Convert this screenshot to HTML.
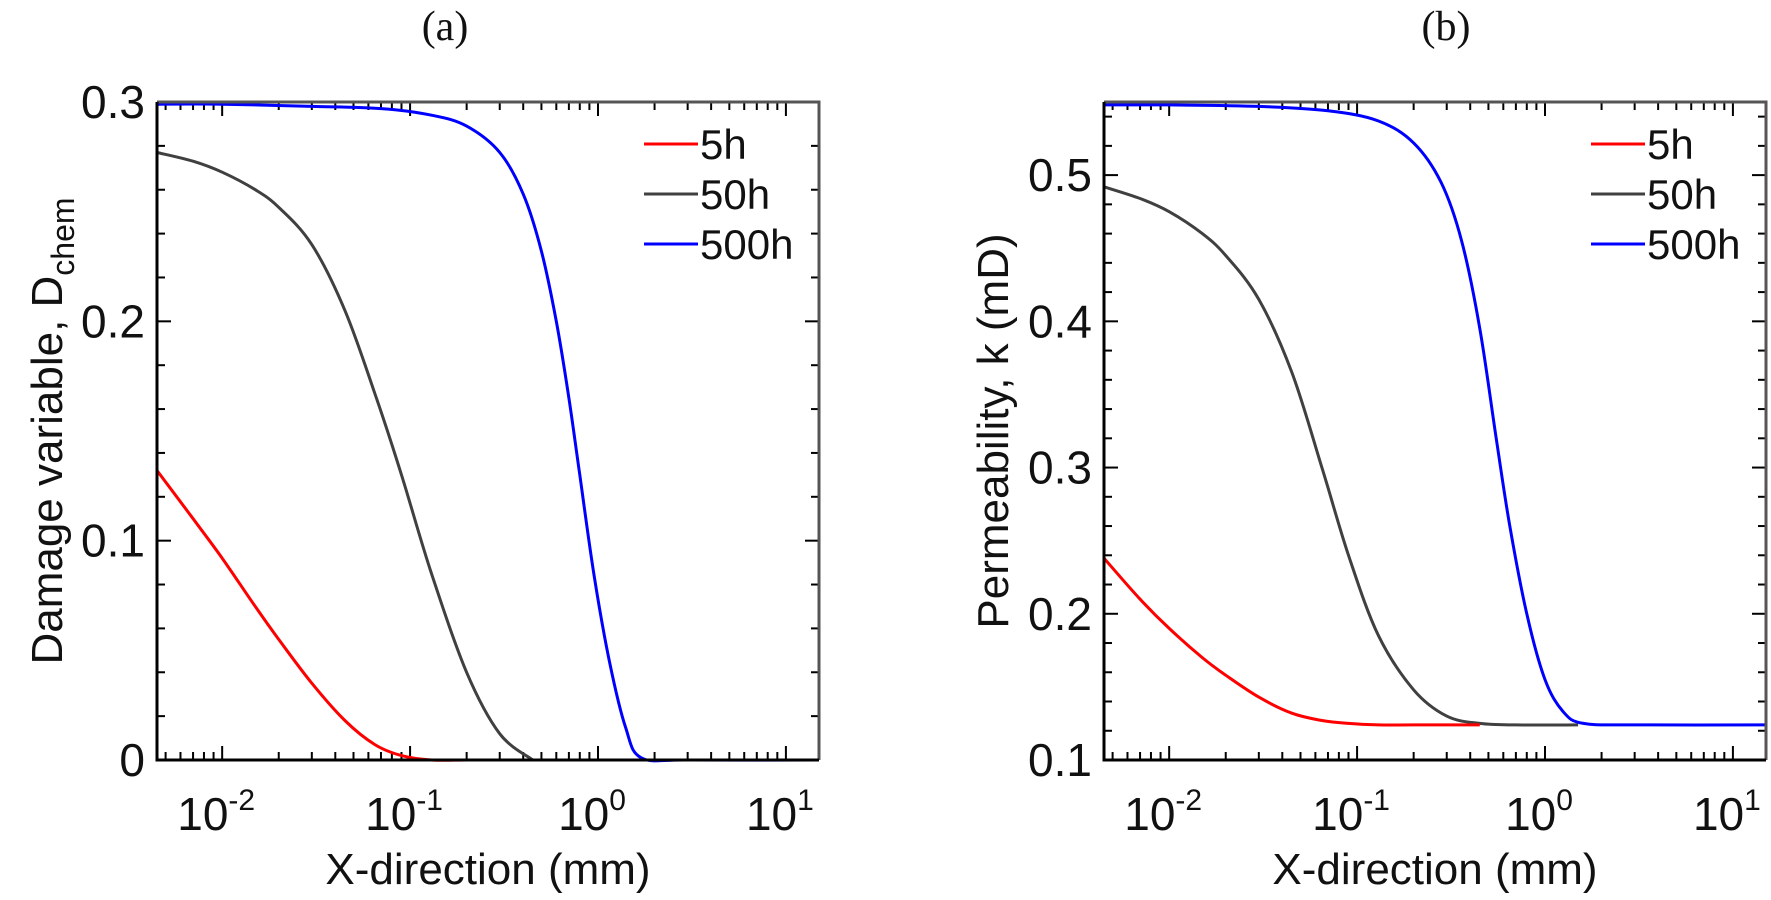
<!DOCTYPE html>
<html><head><meta charset="utf-8"><style>
html,body{margin:0;padding:0;background:#fff;}
svg{display:block;font-family:"Liberation Sans",Arial,sans-serif;}
</style></head><body>
<svg id="fig" width="1771" height="900" viewBox="0 0 1771 900"></svg>
<script>
// ---- data ----
const xA = [0.0045,0.007,0.01,0.015,0.02,0.03,0.045,0.065,0.09,0.13,0.2,0.3,0.45];
const dRed5h = [0.132,0.11,0.092,0.07,0.055,0.035,0.018,0.007,0.002,0,0,0,0];
const xB = [0.0045,0.007,0.01,0.015,0.02,0.03,0.045,0.065,0.09,0.13,0.2,0.3,0.45];
const dBlack50h = [0.277,0.273,0.268,0.26,0.252,0.235,0.205,0.167,0.13,0.085,0.04,0.012,0];
const xC = [0.0045,0.01,0.03,0.07,0.13,0.2,0.3,0.4,0.5,0.6,0.7,0.8,0.95,1.15,1.4,1.7,3,15];
const dBlue500h = [0.299,0.299,0.298,0.297,0.294,0.289,0.277,0.258,0.232,0.2,0.165,0.13,0.085,0.045,0.015,0.001,0,0];

const xD = [0.0045,0.007,0.01,0.015,0.02,0.03,0.045,0.065,0.09,0.13,0.2,0.45];
const kRed5h = [0.238,0.21,0.19,0.17,0.158,0.143,0.132,0.127,0.125,0.124,0.124,0.124];
const xE = [0.0045,0.007,0.01,0.015,0.02,0.03,0.045,0.065,0.09,0.13,0.2,0.3,0.45,0.7,1.5];
const kBlack50h = [0.492,0.484,0.475,0.46,0.445,0.415,0.365,0.3,0.24,0.185,0.148,0.13,0.125,0.124,0.124];
const xF = [0.0045,0.01,0.03,0.07,0.13,0.2,0.28,0.36,0.45,0.55,0.65,0.8,1.0,1.25,1.6,3,15];
const kBlue500h = [0.548,0.548,0.547,0.544,0.537,0.522,0.495,0.455,0.395,0.32,0.26,0.2,0.155,0.133,0.125,0.124,0.124];

const xTickLabels = ["-2","-1","0","1"];
const yTicksA = [0,0.1,0.2,0.3];
const yTicksB = [0.1,0.2,0.3,0.4,0.5];
const legendLabels = ["5h","50h","500h"];
const colors = ["#ff0000","#404040","#0000ff"];

const NS="http://www.w3.org/2000/svg";
const svg=document.getElementById('fig');
function mk(tag,attrs,parent){const e=document.createElementNS(NS,tag);for(const k in attrs)e.setAttribute(k,attrs[k]);(parent||svg).appendChild(e);return e;}

function path(xs,ys,sx,sy){
  const P=xs.map((x,i)=>[sx(x),sy(ys[i])]);
  let d=`M${P[0][0].toFixed(1)},${P[0][1].toFixed(1)}`;
  for(let i=0;i<P.length-1;i++){
    const p0=P[Math.max(0,i-1)],p1=P[i],p2=P[i+1],p3=P[Math.min(P.length-1,i+2)];
    const c1=[p1[0]+(p2[0]-p0[0])/6,p1[1]+(p2[1]-p0[1])/6];
    const c2=[p2[0]-(p3[0]-p1[0])/6,p2[1]-(p3[1]-p1[1])/6];
    d+=` C${c1[0].toFixed(1)},${c1[1].toFixed(1)} ${c2[0].toFixed(1)},${c2[1].toFixed(1)} ${p2[0].toFixed(1)},${p2[1].toFixed(1)}`;
  }
  return d;
}

function panel(cfg){
  const g=mk('g',{});
  
  
  const L=cfg.left,R=cfg.left+662,T=102,B=760;
  const lx0=Math.log10(0.0045),lx1=Math.log10(15);
  const sx=x=>L+(Math.log10(x)-lx0)/(lx1-lx0)*(R-L);
  const sy=y=>B-(y-cfg.ymin)/(cfg.ymax-cfg.ymin)*(B-T);
  for(let e=-3;e<=1;e++){for(let m=1;m<10;m++){const v=m*Math.pow(10,e);if(v<0.0045||v>15)continue;const X=sx(v);const len=m===1?14:8;
    const t1=mk('line',{x1:X,x2:X,y1:B,y2:B-len,stroke:'#000','stroke-width':2},g);
    
    const t2=mk('line',{x1:X,x2:X,y1:T,y2:T+len,stroke:'#000','stroke-width':2},g);
    }}
  xTickLabels.forEach((lab,i)=>{const X=sx(Math.pow(10,i-2));
    const t=mk('text',{x:X-6,y:830,'font-size':46,'text-anchor':'middle',fill:'#111'},g);
    
    t.textContent='10';const s=mk('tspan',{dy:-20,'font-size':30},t);s.textContent=lab;});
  for(let v=cfg.ymin;v<=cfg.ymax+1e-9;v+=0.02){const Y=sy(v);const major=cfg.ticks.some(t=>Math.abs(t-v)<1e-6);const len=major?14:8;
    const a=mk('line',{x1:L,x2:L+len,y1:Y,y2:Y,stroke:'#000','stroke-width':2},g);
    
    const b=mk('line',{x1:R,x2:R-len,y1:Y,y2:Y,stroke:'#000','stroke-width':2},g);
    }
  cfg.ticks.forEach(v=>{const t=mk('text',{x:L-12,y:sy(v)+16,'font-size':46,'text-anchor':'end',fill:'#111'},g);
    
    t.textContent=(v===0?'0':v.toFixed(1));});
  const clip=mk('clipPath',{id:'clip'+cfg.left},g);mk('rect',{x:L,y:T-3,width:R-L,height:B-T+6},clip);
  cfg.series.forEach((s,i)=>{const p=mk('path',{d:path(s[0],s[1],sx,sy),fill:'none',stroke:colors[s[2]],'stroke-width':3,'clip-path':`url(#clip${cfg.left})`},g);
    });
  const f=mk('path',{d:`M${L},${T}H${R}V${B}`,fill:'none',stroke:'#555','stroke-width':3},g);
  
  const ax=mk('path',{d:`M${L},${T}V${B}H${R}`,fill:'none',stroke:'#000','stroke-width':3},g);
  
  legendLabels.forEach((lab,i)=>{const Y=144+i*50;
    const ln=mk('line',{x1:R-175,x2:R-121,y1:Y,y2:Y,stroke:colors[i],'stroke-width':3},g);
    
    const t=mk('text',{x:R-119,y:Y+15,'font-size':42,fill:'#111'},g);
    t.textContent=lab;});
  const xt=mk('text',{x:(L+R)/2,y:884,'font-size':44,'text-anchor':'middle',fill:'#111'},g);
  xt.textContent='X-direction (mm)';
  const yt=mk('text',{x:0,y:0,'font-size':44,'text-anchor':'middle',fill:'#111',transform:`translate(${cfg.ytx},${(T+B)/2}) rotate(-90)`},g);
  
  yt.textContent=cfg.ytitle;
  if(cfg.sub){const s=mk('tspan',{'font-size':32,dy:12},yt);s.textContent=cfg.sub;}
  const pt=mk('text',{x:cfg.ptx,y:40,'font-size':42,'text-anchor':'middle',fill:'#111','font-family':'Liberation Serif, serif'},g);
  pt.textContent=cfg.plabel;
}

panel({name:'panel-a-damage',left:157,ymin:0,ymax:0.3,ticks:yTicksA,ytitle:'Damage variable, D',sub:'chem',ytx:62,ptx:445,plabel:'(a)',
  series:[[xB,dBlack50h,1],[xA,dRed5h,0],[xC,dBlue500h,2]]});
panel({name:'panel-b-permeability',left:1104,ymin:0.1,ymax:0.55,ticks:yTicksB,ytitle:'Permeability, k (mD)',ytx:1008,ptx:1446,plabel:'(b)',
  series:[[xE,kBlack50h,1],[xD,kRed5h,0],[xF,kBlue500h,2]]});
</script>
</body></html>
